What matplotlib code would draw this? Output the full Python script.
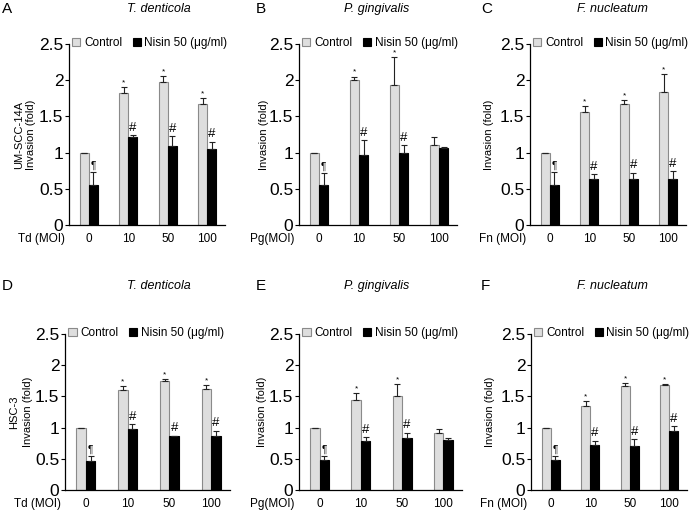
import numpy as np
import matplotlib
matplotlib.use('Agg')
import matplotlib.pyplot as plt
from matplotlib.transforms import offset_copy

plt.rcParams['font.family'] = ['Liberation Sans', 'DejaVu Sans']

# data
moi = ['0', '10', '50', '100']

ctrl_A = [1.0, 1.83, 1.98, 1.67]
ctrl_A_err = [0, 0.08, 0.08, 0.08]
nis_A = [0.55, 1.21, 1.09, 1.05]
nis_A_err = [0.18, 0.03, 0.14, 0.10]

ctrl_B = [1.0, 2.0, 1.93, 1.11]
ctrl_B_err = [0, 0.05, 0.39, 0.10]
nis_B = [0.55, 0.97, 1.0, 1.06]
nis_B_err = [0.17, 0.20, 0.10, 0.02]

ctrl_C = [1.0, 1.56, 1.67, 1.84]
ctrl_C_err = [0, 0.08, 0.05, 0.25]
nis_C = [0.55, 0.64, 0.64, 0.63]
nis_C_err = [0.18, 0.06, 0.08, 0.11]

ctrl_D = [1.0, 1.60, 1.75, 1.62]
ctrl_D_err = [0, 0.06, 0.03, 0.06]
nis_D = [0.47, 0.97, 0.87, 0.87]
nis_D_err = [0.07, 0.09, 0.0, 0.08]

ctrl_E = [1.0, 1.44, 1.50, 0.92]
ctrl_E_err = [0, 0.12, 0.20, 0.06]
nis_E = [0.48, 0.78, 0.84, 0.80]
nis_E_err = [0.07, 0.07, 0.08, 0.04]

ctrl_F = [1.0, 1.34, 1.66, 1.69]
ctrl_F_err = [0, 0.09, 0.05, 0.01]
nis_F = [0.48, 0.72, 0.70, 0.94]
nis_F_err = [0.07, 0.07, 0.11, 0.08]

marks_all = (['', '*', '*', '*'], ['¶', '#', '#', '#'])
marks_pg = (['', '*', '*', ''], ['¶', '#', '#', ''])

W, H = 692, 515
fig = plt.figure(figsize=(W / 100, H / 100), dpi=100)


def px_axes(l, r, t, b):
    return fig.add_axes([l / W, 1 - b / H, (r - l) / W, (b - t) / H])


panels = [
    # letter, title, xname, ctrl, ctrl_err, nis, nis_err, marks, box(l,r,t,b), ylabel x
    ('A', 'T. denticola', 'Td (MOI)', ctrl_A, ctrl_A_err, nis_A, nis_A_err, marks_all, (69, 225, 44, 225), 31),
    ('B', 'P. gingivalis', 'Pg(MOI)', ctrl_B, ctrl_B_err, nis_B, nis_B_err, marks_pg, (299, 457, 44, 225), 264),
    ('C', 'F. nucleatum', 'Fn (MOI)', ctrl_C, ctrl_C_err, nis_C, nis_C_err, marks_all, (530, 686, 44, 225), 489),
    ('D', 'T. denticola', 'Td (MOI)', ctrl_D, ctrl_D_err, nis_D, nis_D_err, marks_all, (65, 230, 334, 490), 28),
    ('E', 'P. gingivalis', 'Pg(MOI)', ctrl_E, ctrl_E_err, nis_E, nis_E_err, marks_pg, (299, 462, 334, 490), 262),
    ('F', 'F. nucleatum', 'Fn (MOI)', ctrl_F, ctrl_F_err, nis_F, nis_F_err, marks_all, (531, 687, 334, 490), 490),
]

x = np.arange(len(moi))
bw = 0.23

for letter, title, xname, ctrl, cerr, nis, nerr, marks, box, ylx in panels:
    l, r, t, b = box
    ax = px_axes(l, r, t, b)
    zeros = [0] * len(x)
    ax.bar(x - bw / 2, ctrl, bw, color='#dedede', edgecolor='#8a8a8a', linewidth=0.8,
           yerr=[zeros, cerr], error_kw=dict(ecolor='#222222', elinewidth=0.8, capsize=2, capthick=0.8),
           label='Control')
    ax.bar(x + bw / 2, nis, bw, color='black', edgecolor='black', linewidth=0.8,
           yerr=[zeros, nerr], error_kw=dict(ecolor='#222222', elinewidth=0.8, capsize=2, capthick=0.8),
           label='Nisin 50 (μg/ml)')

    # significance marks
    for i in range(len(x)):
        if marks[0][i]:
            ax.text(x[i] - bw / 2, ctrl[i] + cerr[i] + 0.01, marks[0][i], ha='center', va='bottom', fontsize=6)
        if marks[1][i]:
            fs = 9.5 if marks[1][i] == '#' else 7
            ax.text(x[i] + bw / 2, nis[i] + nerr[i] + 0.02, marks[1][i], ha='center', va='bottom', fontsize=fs)

    ax.set_xlim(-0.5, 3.45)
    ax.set_ylim(0, 2.5)
    ax.set_yticks([0, 0.5, 1, 1.5, 2, 2.5])
    ax.set_yticklabels(['0', '0.5', '1', '1.5', '2', '2.5'], fontsize=12.5)
    ax.set_xticks(x)
    ax.set_xticklabels(moi, fontsize=8.5)
    ax.tick_params(axis='x', length=0, pad=6)
    ax.tick_params(axis='y', length=3, width=0.8, pad=1)
    ax.spines['top'].set_visible(False)
    ax.spines['right'].set_visible(False)
    ax.spines['left'].set_linewidth(0.9)
    ax.spines['bottom'].set_linewidth(0.9)

    # x axis name left of the ticks
    tr = offset_copy(ax.transAxes, fig=fig, x=-3, y=-6, units='points')
    ax.text(0, 0, xname, transform=tr, ha='right', va='top', fontsize=8.5)

    ax.legend(loc='center left', bbox_to_anchor=(0.02, 1.005), ncol=2, frameon=False, fontsize=8.5,
              handlelength=0.7, handleheight=0.7, handletextpad=0.3, columnspacing=0.9, borderpad=0,
              borderaxespad=0)

    # labels
    yc = (t + b) / 2
    fig.text(ylx / W, 1 - yc / H, 'Invasion (fold)', rotation=90, ha='center', va='center', fontsize=8)
    if letter == 'A':
        fig.text(19 / W, 1 - yc / H, 'UM-SCC-14A', rotation=90, ha='center', va='center', fontsize=8)
    if letter == 'D':
        fig.text(14 / W, 1 - yc / H, 'HSC-3', rotation=90, ha='center', va='center', fontsize=8)

    ty = 9 if t < 100 else 286
    tx = {'A': 159, 'B': 377, 'C': 612, 'D': 159, 'E': 377, 'F': 612}[letter]
    lx = {'A': 2, 'B': 256, 'C': 481, 'D': 2, 'E': 256, 'F': 481}[letter]
    fig.text(tx / W, 1 - ty / H, title, style='italic', ha='center', va='center', fontsize=9)
    fig.text(lx / W, 1 - ty / H, letter, ha='left', va='center', fontsize=11)

fig.savefig('out.png', dpi=100)
